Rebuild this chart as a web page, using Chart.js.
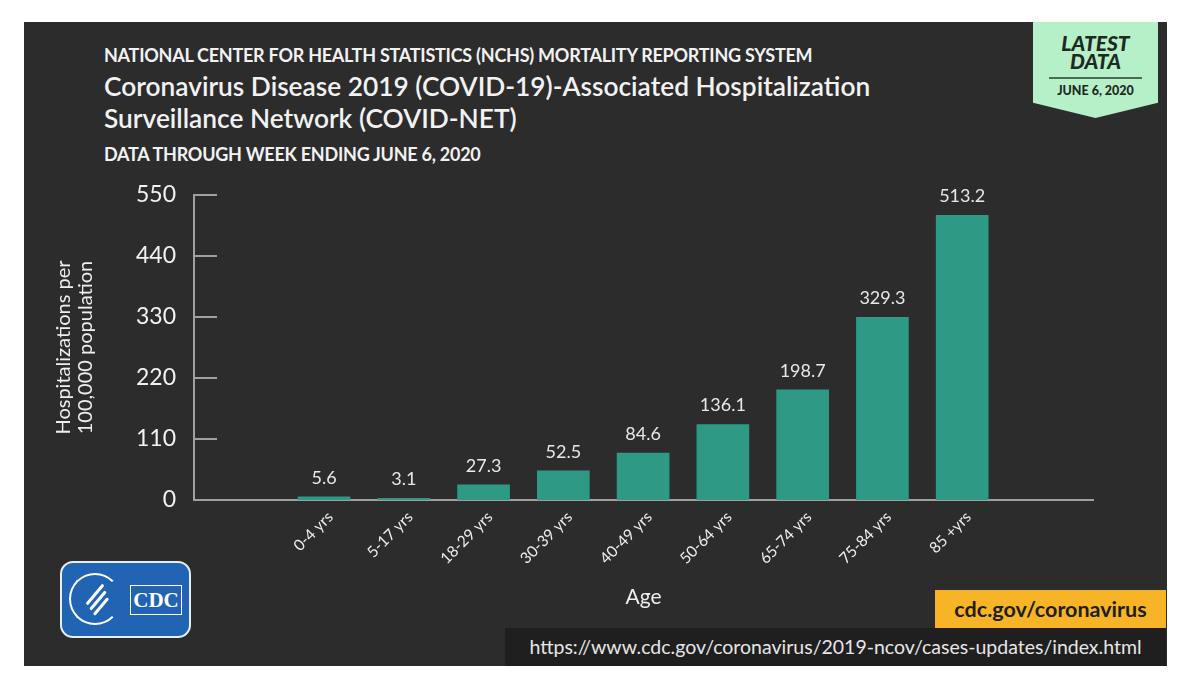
<!DOCTYPE html>
<html>
<head>
<meta charset="utf-8">
<script src="https://cdn.jsdelivr.net/npm/chart.js@4.4.1/dist/chart.umd.min.js"></script>
<style>
  body { margin: 0; background: #fff; width: 1200px; height: 686px; overflow: hidden; font-family: Lato, "Open Sans", sans-serif; }
  #panel { position: absolute; left: 24px; top: 22px; width: 1143px; height: 644px; background: #2c2c2c; }
  #myChart { position: absolute; left: 0; top: 0; }
  .txt { position: absolute; color: #f2f2f2; white-space: nowrap; }
  #t1 { left: 104px; top: 44px; font-size: 18px; font-weight: 700; letter-spacing: -0.25px; }
  #t2 { left: 104px; top: 70px; font-size: 26.3px; font-weight: 600; }
  #t3 { left: 104px; top: 102px; font-size: 26.3px; font-weight: 600; }
  #t4 { left: 104px; top: 143px; font-size: 18px; font-weight: 700; letter-spacing: -0.25px; }
  #badge { position: absolute; left: 1033px; top: 22px; width: 125px; height: 96px; background: #b6f0c9;
           clip-path: polygon(0 0, 100% 0, 100% 84%, 50% 100%, 0 84%); text-align: center; color: #1d2a22; }
  #badge .l1 { position: absolute; left: 0; right: 0; top: 12px; font-size: 21px; font-weight: 900; font-style: italic; line-height: 18px; }
  #badge .rule { position: absolute; left: 16px; right: 16px; top: 55px; height: 2px; background: #4a6b55; }
  #badge .l2 { position: absolute; left: 0; right: 0; top: 61px; font-size: 12.5px; font-weight: 900; }
  #logo { position: absolute; left: 60px; top: 561px; width: 127px; height: 73px; background: #2164b4; border: 2px solid #e8eef7; border-radius: 13px; }
  #seal { position: absolute; left: 7px; top: 10px; width: 48px; height: 48px; border: 2px solid #fff; border-radius: 50%; border-right-color: transparent; }
  #wing1, #wing2, #wing3 { position: absolute; height: 3px; background: #fff; transform: rotate(-50deg); border-radius: 2px; }
  #wing1 { left: 20px; top: 30px; width: 26px; }
  #wing2 { left: 24px; top: 36px; width: 24px; }
  #wing3 { left: 28px; top: 42px; width: 22px; }
  #cdcbox { position: absolute; left: 68px; top: 22px; width: 50px; height: 28px; border: 1.5px solid #fff; color: #fff;
            font-family: "Liberation Serif", serif; font-weight: 700; font-size: 21px; line-height: 28px; text-align: center; }
  #orange { position: absolute; left: 935px; top: 590px; width: 231px; height: 38px; background: #f7b427; color: #1e1e1e;
            font-size: 21.5px; font-weight: 700; line-height: 38px; text-align: center; }
  #url { position: absolute; left: 505px; top: 628px; width: 661px; height: 38px; background: #1f1f1f; color: #e6e6e6;
         font-size: 19.5px; line-height: 38px; text-align: center; }
</style>
</head>
<body>
<div id="panel"></div>
<div class="txt" id="t1">NATIONAL CENTER FOR HEALTH STATISTICS (NCHS) MORTALITY REPORTING SYSTEM</div>
<div class="txt" id="t2">Coronavirus Disease 2019 (COVID-19)-Associated Hospitalization</div>
<div class="txt" id="t3">Surveillance Network (COVID-NET)</div>
<div class="txt" id="t4">DATA THROUGH WEEK ENDING JUNE 6, 2020</div>
<div id="badge"><div class="l1">LATEST<br>DATA</div><div class="rule"></div><div class="l2">JUNE 6, 2020</div></div>
<div id="logo"><div id="seal"></div><div id="wing1"></div><div id="wing2"></div><div id="wing3"></div><div id="cdcbox">CDC</div></div>
<div id="orange">cdc.gov/coronavirus</div>
<div id="url">https://www.cdc.gov/coronavirus/2019-ncov/cases-updates/index.html</div>
<canvas id="myChart" width="1200" height="686"></canvas>
<script>
const ageGroups = ['0-4 yrs', '5-17 yrs', '18-29 yrs', '30-39 yrs', '40-49 yrs', '50-64 yrs', '65-74 yrs', '75-84 yrs', '85 +yrs']
const rates = [5.6, 3.1, 27.3, 52.5, 84.6, 136.1, 198.7, 329.3, 513.2]
const yTicks = [0, 110, 220, 330, 440, 550]

const points = ageGroups.map((g, i) => ({x: i, y: rates[i]}))

// short tick marks pointing into the plot, like the original
const innerTicks = {
  id: 'innerTicks',
  afterDraw(chart){
    const ctx = chart.ctx
    const y = chart.scales.y
    ctx.save()
    ctx.strokeStyle = '#a0a0a0'
    ctx.lineWidth = 2
    yTicks.forEach(v => {
      if (v === 0) return
      const py = y.getPixelForValue(v)
      ctx.beginPath()
      ctx.moveTo(y.right, py)
      ctx.lineTo(y.right + 23, py)
      ctx.stroke()
    })
    ctx.restore()
  }
}

const valueLabels = {
  id: 'valueLabels',
  afterDatasetsDraw(chart){
    const ctx = chart.ctx
    const meta = chart.getDatasetMeta(0)
    ctx.save()
    ctx.fillStyle = '#e8e8e8'
    ctx.font = '18px Lato, sans-serif'
    ctx.textAlign = 'center'
    ctx.textBaseline = 'bottom'
    meta.data.forEach((bar, i) => {
      ctx.fillText(rates[i].toFixed(1), bar.x, bar.y - 10)
    })
    ctx.restore()
  }
}

const config = {
  type: 'bar',
  data: {
    datasets: [{
      label: 'Hospitalizations per 100,000 population',
      data: points,
      backgroundColor: '#2e9a86',
      barThickness: 52
    }]
  },
  options: {
    responsive: false,
    animation: false,
    layout: { padding: { left: 53, right: 107, top: 195, bottom: 76 } },
    plugins: { legend: { display: false }, tooltip: { enabled: false } },
    scales: {
      x: {
        type: 'linear',
        offset: false,
        min: -1.63,
        max: 9.64,
        grid: { display: false },
        border: { display: true, color: '#a0a0a0', width: 2 },
        afterFit(scale){ scale.height = 110 },
        afterBuildTicks(scale){ scale.ticks = ageGroups.map((g, i) => ({value: i + 0.08})) },
        ticks: {
          autoSkip: false,
          minRotation: 45,
          maxRotation: 45,
          padding: 0,
          color: '#eeeeee',
          font: { family: 'Lato', size: 15.5 },
          callback: (v, i) => ageGroups[i]
        },
        title: { display: true, text: 'Age', color: '#eeeeee', font: { family: 'Lato', size: 21 }, padding: 0 }
      },
      y: {
        min: 0,
        max: 550,
        afterFit(scale){ scale.width = 141 },
        afterBuildTicks(scale){ scale.ticks = yTicks.map(v => ({value: v})) },
        grid: { display: false },
        border: { display: true, color: '#a0a0a0', width: 2 },
        ticks: { color: '#f2f2f2', padding: 10, font: { family: 'Lato', size: 23 } },
        title: {
          display: true,
          text: ['Hospitalizations per', '100,000 population'],
          color: '#eeeeee',
          font: { family: 'Lato', size: 20, lineHeight: 1.1 },
          padding: 0
        }
      }
    }
  },
  plugins: [innerTicks, valueLabels]
}

const myChart = new Chart(document.getElementById('myChart'), config)
</script>
</body>
</html>
